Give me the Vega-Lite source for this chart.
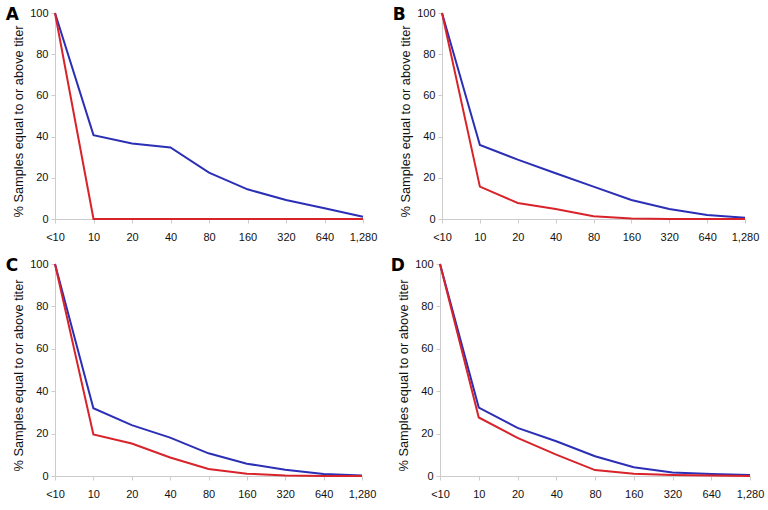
{
  "$schema": "https://vega.github.io/schema/vega-lite/v6.json",
  "background": "white",
  "padding": {"left": 5, "top": 6, "right": 5, "bottom": 5},
  "config": {
    "font": "Liberation Sans",
    "view": {"stroke": null},
    "axis": {
      "grid": false,
      "domainColor": "#cccccc",
      "tickColor": "#cccccc",
      "tickSize": 4,
      "labelColor": "#111111",
      "labelFontSize": 11,
      "labelFont": "Liberation Sans",
      "titleFont": "Liberation Sans",
      "titleFontWeight": "normal",
      "titleColor": "#111111",
      "titleFontSize": 12.8
    },
    "title": {"fontSize": 17, "fontWeight": "bold", "font": "DejaVu Sans", "anchor": "start", "frame": "bounds", "color": "#000000", "offset": -17, "dx": -7},
    "line": {"strokeWidth": 2}
  },
  "spacing": 15,
  "data": {
    "values": [
      {"panel": "A", "series": "blue", "titer": "<10", "pct": 100},
      {"panel": "A", "series": "blue", "titer": "10", "pct": 40.7},
      {"panel": "A", "series": "blue", "titer": "20", "pct": 36.7},
      {"panel": "A", "series": "blue", "titer": "40", "pct": 34.7},
      {"panel": "A", "series": "blue", "titer": "80", "pct": 22.5},
      {"panel": "A", "series": "blue", "titer": "160", "pct": 14.4},
      {"panel": "A", "series": "blue", "titer": "320", "pct": 9.2},
      {"panel": "A", "series": "blue", "titer": "640", "pct": 5.2},
      {"panel": "A", "series": "blue", "titer": "1,280", "pct": 1.1},
      {"panel": "A", "series": "red", "titer": "<10", "pct": 100},
      {"panel": "A", "series": "red", "titer": "10", "pct": 0},
      {"panel": "A", "series": "red", "titer": "20", "pct": 0},
      {"panel": "A", "series": "red", "titer": "40", "pct": 0},
      {"panel": "A", "series": "red", "titer": "80", "pct": 0},
      {"panel": "A", "series": "red", "titer": "160", "pct": 0},
      {"panel": "A", "series": "red", "titer": "320", "pct": 0},
      {"panel": "A", "series": "red", "titer": "640", "pct": 0},
      {"panel": "A", "series": "red", "titer": "1,280", "pct": 0},
      {"panel": "B", "series": "blue", "titer": "<10", "pct": 100},
      {"panel": "B", "series": "blue", "titer": "10", "pct": 35.9},
      {"panel": "B", "series": "blue", "titer": "20", "pct": 28.8},
      {"panel": "B", "series": "blue", "titer": "40", "pct": 22.2},
      {"panel": "B", "series": "blue", "titer": "80", "pct": 15.7},
      {"panel": "B", "series": "blue", "titer": "160", "pct": 9.2},
      {"panel": "B", "series": "blue", "titer": "320", "pct": 4.9},
      {"panel": "B", "series": "blue", "titer": "640", "pct": 1.9},
      {"panel": "B", "series": "blue", "titer": "1,280", "pct": 0.6},
      {"panel": "B", "series": "red", "titer": "<10", "pct": 100},
      {"panel": "B", "series": "red", "titer": "10", "pct": 15.7},
      {"panel": "B", "series": "red", "titer": "20", "pct": 7.8},
      {"panel": "B", "series": "red", "titer": "40", "pct": 4.9},
      {"panel": "B", "series": "red", "titer": "80", "pct": 1.3},
      {"panel": "B", "series": "red", "titer": "160", "pct": 0.2},
      {"panel": "B", "series": "red", "titer": "320", "pct": 0},
      {"panel": "B", "series": "red", "titer": "640", "pct": 0},
      {"panel": "B", "series": "red", "titer": "1,280", "pct": 0},
      {"panel": "C", "series": "blue", "titer": "<10", "pct": 100},
      {"panel": "C", "series": "blue", "titer": "10", "pct": 32},
      {"panel": "C", "series": "blue", "titer": "20", "pct": 24},
      {"panel": "C", "series": "blue", "titer": "40", "pct": 18.1},
      {"panel": "C", "series": "blue", "titer": "80", "pct": 10.7},
      {"panel": "C", "series": "blue", "titer": "160", "pct": 5.8},
      {"panel": "C", "series": "blue", "titer": "320", "pct": 3},
      {"panel": "C", "series": "blue", "titer": "640", "pct": 0.9},
      {"panel": "C", "series": "blue", "titer": "1,280", "pct": 0.2},
      {"panel": "C", "series": "red", "titer": "<10", "pct": 100},
      {"panel": "C", "series": "red", "titer": "10", "pct": 19.6},
      {"panel": "C", "series": "red", "titer": "20", "pct": 15.3},
      {"panel": "C", "series": "red", "titer": "40", "pct": 8.7},
      {"panel": "C", "series": "red", "titer": "80", "pct": 3.3},
      {"panel": "C", "series": "red", "titer": "160", "pct": 1.1},
      {"panel": "C", "series": "red", "titer": "320", "pct": 0.2},
      {"panel": "C", "series": "red", "titer": "640", "pct": 0},
      {"panel": "C", "series": "red", "titer": "1,280", "pct": 0},
      {"panel": "D", "series": "blue", "titer": "<10", "pct": 100},
      {"panel": "D", "series": "blue", "titer": "10", "pct": 32.3},
      {"panel": "D", "series": "blue", "titer": "20", "pct": 22.7},
      {"panel": "D", "series": "blue", "titer": "40", "pct": 16.4},
      {"panel": "D", "series": "blue", "titer": "80", "pct": 9.3},
      {"panel": "D", "series": "blue", "titer": "160", "pct": 4.1},
      {"panel": "D", "series": "blue", "titer": "320", "pct": 1.7},
      {"panel": "D", "series": "blue", "titer": "640", "pct": 0.9},
      {"panel": "D", "series": "blue", "titer": "1,280", "pct": 0.5},
      {"panel": "D", "series": "red", "titer": "<10", "pct": 100},
      {"panel": "D", "series": "red", "titer": "10", "pct": 27.6},
      {"panel": "D", "series": "red", "titer": "20", "pct": 18},
      {"panel": "D", "series": "red", "titer": "40", "pct": 10.1},
      {"panel": "D", "series": "red", "titer": "80", "pct": 2.8},
      {"panel": "D", "series": "red", "titer": "160", "pct": 1.1},
      {"panel": "D", "series": "red", "titer": "320", "pct": 0.5},
      {"panel": "D", "series": "red", "titer": "640", "pct": 0.2},
      {"panel": "D", "series": "red", "titer": "1,280", "pct": 0}
    ]
  },
  "vconcat": [
    {
      "spacing": 15,
      "hconcat": [
        {
          "title": "A",
          "width": 308, "height": 206,
          "transform": [{"filter": "datum.panel === 'A'"}],
          "mark": {"type": "line"},
          "encoding": {
            "x": {"field": "titer", "type": "ordinal", "sort": ["<10","10","20","40","80","160","320","640","1,280"], "scale": {"type": "point", "padding": 0}, "axis": {"title": null, "labelAngle": 0, "labelPadding": 8}},
            "y": {"field": "pct", "type": "quantitative", "scale": {"domain": [0, 100]}, "axis": {"title": "% Samples equal to or above titer", "titleY": 108, "values": [0,20,40,60,80,100], "labelPadding": 3, "titlePadding": 4}},
            "color": {"field": "series", "type": "nominal", "scale": {"domain": ["blue","red"], "range": ["#2b2fb5","#d8232a"]}, "legend": null}
          }
        },
        {
          "title": "B",
          "width": 303, "height": 206,
          "transform": [{"filter": "datum.panel === 'B'"}],
          "mark": {"type": "line"},
          "encoding": {
            "x": {"field": "titer", "type": "ordinal", "sort": ["<10","10","20","40","80","160","320","640","1,280"], "scale": {"type": "point", "padding": 0}, "axis": {"title": null, "labelAngle": 0, "labelPadding": 8}},
            "y": {"field": "pct", "type": "quantitative", "scale": {"domain": [0, 100]}, "axis": {"title": "% Samples equal to or above titer", "titleY": 108, "values": [0,20,40,60,80,100], "labelPadding": 3, "titlePadding": 4}},
            "color": {"field": "series", "type": "nominal", "scale": {"domain": ["blue","red"], "range": ["#2b2fb5","#d8232a"]}, "legend": null}
          }
        }
      ]
    },
    {
      "spacing": 14,
      "hconcat": [
        {
          "title": "C",
          "width": 307, "height": 212,
          "transform": [{"filter": "datum.panel === 'C'"}],
          "mark": {"type": "line"},
          "encoding": {
            "x": {"field": "titer", "type": "ordinal", "sort": ["<10","10","20","40","80","160","320","640","1,280"], "scale": {"type": "point", "padding": 0}, "axis": {"title": null, "labelAngle": 0, "labelPadding": 8}},
            "y": {"field": "pct", "type": "quantitative", "scale": {"domain": [0, 100]}, "axis": {"title": "% Samples equal to or above titer", "titleY": 111, "values": [0,20,40,60,80,100], "labelPadding": 3, "titlePadding": 4}},
            "color": {"field": "series", "type": "nominal", "scale": {"domain": ["blue","red"], "range": ["#2b2fb5","#d8232a"]}, "legend": null}
          }
        },
        {
          "title": "D",
          "width": 310, "height": 212,
          "transform": [{"filter": "datum.panel === 'D'"}],
          "mark": {"type": "line"},
          "encoding": {
            "x": {"field": "titer", "type": "ordinal", "sort": ["<10","10","20","40","80","160","320","640","1,280"], "scale": {"type": "point", "padding": 0}, "axis": {"title": null, "labelAngle": 0, "labelPadding": 8}},
            "y": {"field": "pct", "type": "quantitative", "scale": {"domain": [0, 100]}, "axis": {"title": "% Samples equal to or above titer", "titleY": 111, "values": [0,20,40,60,80,100], "labelPadding": 3, "titlePadding": 4}},
            "color": {"field": "series", "type": "nominal", "scale": {"domain": ["blue","red"], "range": ["#2b2fb5","#d8232a"]}, "legend": null}
          }
        }
      ]
    }
  ]
}
